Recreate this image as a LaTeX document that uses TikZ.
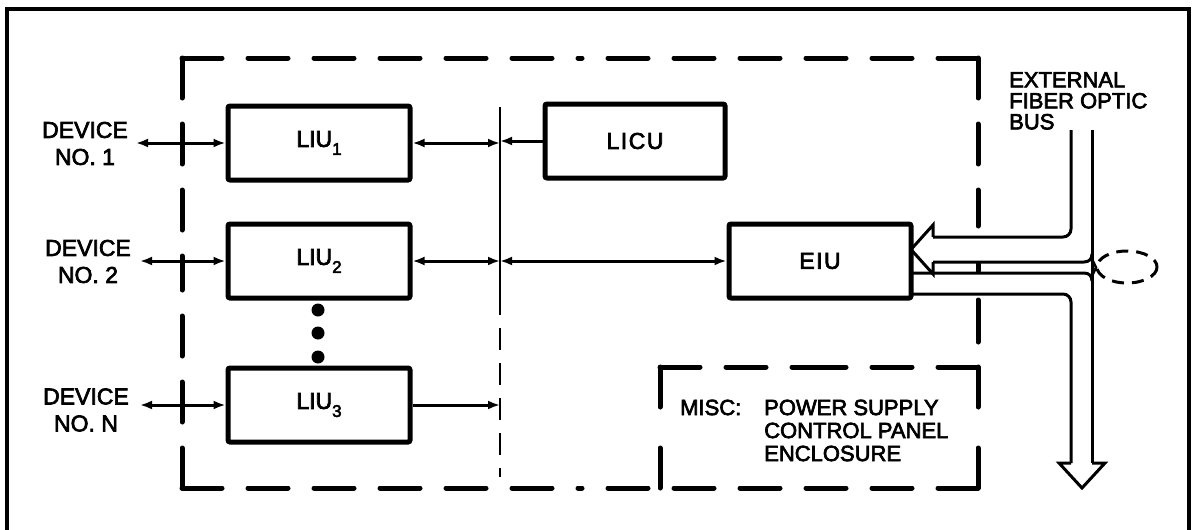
\documentclass[tikz,border=0pt]{standalone}
\usepackage{fontspec}
\setmainfont{Liberation Sans}[BoldFont={Liberation Sans},BoldFeatures={FakeBold=3}]
\usetikzlibrary{arrows.meta}
\begin{document}
\begin{tikzpicture}[x=1pt,y=-1pt,
  unit/.style={draw,line width=5pt,rounded corners=2pt,minimum width=182pt,minimum height=74pt,inner sep=0pt,font=\bfseries\fontsize{23}{26}\selectfont},
  lab/.style={inner sep=0pt,align=center,font=\bfseries\fontsize{23}{27}\selectfont},
  txt/.style={inner sep=0pt,align=left,font=\bfseries\fontsize{22}{23}\selectfont},
  tip/.tip={Latex[length=12pt,width=9pt]},
  conn/.style={line width=3pt,tip-tip},
  connr/.style={line width=3pt,-tip},
  bigdash/.style={line width=5pt,line cap=round,dash pattern=on 40pt off 26pt},
  solidedge/.style={line width=5pt,line cap=round},
  busdash/.style={line width=2.5pt,dash pattern=on 22pt off 13pt},
  fiber/.style={line width=3pt,rounded corners=8pt},
  fibertip/.style={line width=3pt,line join=miter},
]
\useasboundingbox (0,0) rectangle (1194,530);
% outer frame
\draw[line width=3.5pt] (7,532) -- (7,9) -- (1189,9) -- (1189,532);

% units
\newcommand{\sub}[1]{\raisebox{-8pt}{\smash{\fontsize{17}{17}\selectfont #1}}}
\node[unit] (liu1) at (319,143) {LIU\sub{1}};
\node[unit] (liu2) at (319,261) {LIU\sub{2}};
\node[unit] (liu3) at (319,405) {LIU\sub{3}};
\node[unit,minimum width=180pt] (licu) at (635,141) {L\kern1.5pt I\kern1.5pt C\kern1.5pt U};
\node[unit] (eiu) at (820,261) {E\kern1.5pt I\kern1.5pt U};

% device labels
\node[lab] (dev1) at (85,143.5) {DEVICE\\NO. 1};
\node[lab] (dev2) at (88,261.5) {DEVICE\\NO. 2};
\node[lab] (devn) at (86,410) {DEVICE\\NO. N};
\node[txt,anchor=north west,font=\bfseries\fontsize{22}{21}\selectfont] (ext) at (1009,72) {EXTERNAL\\FIBER OPTIC\\BUS};
\node[txt,anchor=north west] (misc) at (680,399.5) {MISC:};
\node[txt,anchor=north west] (items) at (764,399.5) {POWER SUPPLY\\CONTROL PANEL\\ENCLOSURE};

% dots
\foreach \yy in {310,333,357} \fill (318,\yy) circle[radius=6.5pt];

% internal bus
\coordinate (btop) at (500,107);
\coordinate (bmid) at (500,293);
\coordinate (bbot) at (500,477);
\coordinate (b1) at (500,143);
\coordinate (b2) at (500,261);
\coordinate (b3) at (500,405);
\draw[line width=2.5pt] (btop) -- (bmid);
\draw[busdash] (bmid) -- (bbot);

% device ends
\coordinate (d1) at (136,143);
\coordinate (d2) at (140,261);
\coordinate (dn) at (140,405);

% connectors
\draw[conn] (d1) -- (liu1.west);
\draw[conn] (liu1.east) -- (b1);
\draw[connr] (licu.west) -- (licu.west -| b1);
\draw[conn] (d2) -- (liu2.west);
\draw[conn] (liu2.east) -- (b2);
\draw[conn] (b2) -- (eiu.west);
\draw[conn] (dn) -- (liu3.west);
\draw[connr] (liu3.east) -- (b3);

% big dashed enclosure
\draw[bigdash] (182,58) -- (580,58) (978,58) -- (580,58);
\draw[bigdash] (182,58) -- (182,273) (182,488) -- (182,273);
\draw[bigdash] (182,488) -- (580,488) (978,488) -- (580,488);
\draw[bigdash] (978,58) -- (978,226);
\draw[solidedge] (978,264) -- (978,271) (978,300) -- (978,342);
% misc box
\draw[bigdash] (660,367) -- (820,367) (978,367) -- (820,367);
\draw[bigdash] (660,367) -- (660,428) (660,488) -- (660,428);
\draw[bigdash] (978,367) -- (978,428) (978,488) -- (978,428);

% external fiber optic bus (hollow arrows)
\draw[fiber] (1071,130) -- (1071,237) -- (933,237);
\draw[fibertip] (933,237) -- (933,225) -- (911,249.5) -- (933,274) -- (933,262);
\draw[line width=3pt] (933,262) -- (1084,262) .. controls (1089,262) and (1092,259) .. (1092,254);
\draw[line width=3pt] (1092,130) -- (1092,463);
\draw[line width=3pt] (911,273) -- (1084,273) .. controls (1089,273) and (1092,276) .. (1092,281);
\draw[line width=2.5pt] (1092,259) -- (1096,267.5) -- (1092,276);
\draw[fibertip] (1092,463) -- (1105,463) -- (1082,488) -- (1059,463) -- (1071,463);
\draw[fiber] (1071,463) -- (1071,294) -- (911,294);
% coupler ellipse
\draw[line width=3pt,dash pattern=on 12pt off 8pt] (1127,267) ellipse [x radius=30, y radius=16];
\end{tikzpicture}
\end{document}
